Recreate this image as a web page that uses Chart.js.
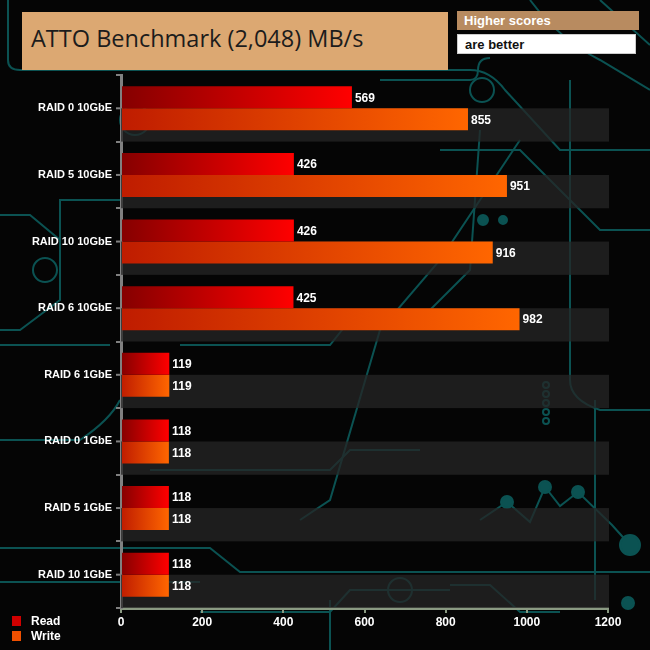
<!DOCTYPE html>
<html>
<head>
<meta charset="utf-8">
<script src="https://cdn.jsdelivr.net/npm/chart.js@4.4.0/dist/chart.umd.min.js"></script>
<style>
  html, body { margin: 0; padding: 0; background: #050505; }
  #wrap { position: relative; width: 650px; height: 650px; overflow: hidden; background: #050505; }
  #bg { position: absolute; left: 0; top: 0; }
  #chart { position: absolute; left: 0; top: 0; }
  .box { position: absolute; box-sizing: border-box; }
  #title { left: 22px; top: 12px; width: 426px; height: 58px; background: #dca872;
           font: 23.5px "Open Sans", "Noto Sans", sans-serif; color: #1c1c1c; padding: 10px 0 0 9px; }
  #hs { left: 457px; top: 11px; width: 182px; height: 19px; background: #b88b60;
        font: bold 13px "Liberation Sans Narrow", "Liberation Sans", Arial, sans-serif; color: #fff; padding: 2px 0 0 7px; }
  #ab { left: 457px; top: 34px; width: 179px; height: 20px; background: #fff; border: 1px solid #ccc;
        font: bold 13px "Liberation Sans Narrow", "Liberation Sans", Arial, sans-serif; color: #111; padding: 2px 0 0 7px; }
  .lg { position: absolute; left: 12px; font: bold 12px "Liberation Sans", Arial, sans-serif; color: #fff; }
  .lg span { display: inline-block; width: 9px; height: 10px; margin-right: 10px; vertical-align: -1px; }
</style>
</head>
<body>
<div id="wrap">
  <svg id="bg" width="650" height="650" fill="none" stroke="#0b5252" stroke-width="2">
    <path d="M8 0 V60 Q8 70 20 70 H470 Q490 70 505 90 L560 150 H650"/>
    <path d="M0 215 H30 L60 240 V300 L20 330 H0"/>
    <circle cx="45" cy="270" r="12"/>
    <path d="M120 200 H60 V250"/>
    <path d="M380 80 H470 Q478 80 478 70 Q478 58 490 58"/>
    <path d="M530 0 Q560 40 600 60 L650 90"/>
    <path d="M600 0 L650 45"/>
    <path d="M440 150 L520 150 L600 230 H650"/>
    <path d="M300 520 L330 500 L380 330 L440 260 L520 140"/>
    <path d="M180 345 H330 L350 320 L420 320 L470 270 L480 130"/>
    <path d="M0 345 H110"/>
    <path d="M0 548 H210 L240 572 H650"/>
    <path d="M0 582 H200"/>
    <path d="M200 612 L330 612 L350 590 H450"/>
    <path d="M330 600 V650"/>
    <path d="M450 585 L490 585 L520 612 H560"/>
    <path d="M480 520 L507 502 L530 522 L545 487 L560 506 L578 492 L612 525 L630 545"/>
    <path d="M570 80 V380 Q570 400 600 410 H650"/>
    <path d="M595 400 V600"/>
    <path d="M120 400 Q110 420 80 440 H0"/>
    <path d="M150 470 H330 L350 450 H420"/>
    <circle cx="135" cy="120" r="15"/>
    <circle cx="135" cy="120" r="6"/>
    <circle cx="400" cy="590" r="12"/>
    <circle cx="482" cy="90" r="12"/>
    <circle cx="630" cy="545" r="10" fill="#0b5252"/>
    <circle cx="628" cy="603" r="6" fill="#0b5252"/>
    <circle cx="507" cy="502" r="6" fill="#0b5252"/>
    <circle cx="545" cy="487" r="6" fill="#0b5252"/>
    <circle cx="578" cy="492" r="6" fill="#0b5252"/>
    <circle cx="483" cy="220" r="5" fill="#0b5252"/>
    <circle cx="503" cy="220" r="4" fill="#0b5252"/>
    <circle cx="546" cy="385" r="3"/>
    <circle cx="546" cy="394" r="3"/>
    <circle cx="546" cy="403" r="3"/>
    <circle cx="546" cy="412" r="3"/>
    <circle cx="546" cy="421" r="3"/>
  </svg>
  <canvas id="chart" width="650" height="650"></canvas>
  <div class="box" id="title">ATTO Benchmark (2,048) MB/s</div>
  <div class="box" id="hs">Higher scores</div>
  <div class="box" id="ab">are better</div>
  <div class="lg" style="top:614px"><span style="background:#d00000"></span>Read</div>
  <div class="lg" style="top:629px"><span style="background:#f05000"></span>Write</div>
</div>
<script>
var categories = ['RAID 0 10GbE', 'RAID 5 10GbE', 'RAID 10 10GbE', 'RAID 6 10GbE',
                  'RAID 6 1GbE', 'RAID 0 1GbE', 'RAID 5 1GbE', 'RAID 10 1GbE'];
var readValues = [569, 426, 426, 425, 119, 118, 118, 118];
var writeValues = [855, 951, 916, 982, 119, 118, 118, 118];
var xTicks = [0, 200, 400, 600, 800, 1000, 1200];

function barGradient(from, to, fallback) {
  return function (ctx) {
    var chart = ctx.chart;
    if (!chart.chartArea || ctx.raw === undefined) return fallback;
    var x = chart.scales.x;
    var x0 = x.getPixelForValue(0);
    var x1 = x.getPixelForValue(ctx.raw);
    var g = chart.ctx.createLinearGradient(x0, 0, x1, 0);
    g.addColorStop(0, from);
    g.addColorStop(1, to);
    return g;
  };
}

// grey band under the lower half of every category + small ticks at the centres
var bandPlugin = {
  id: 'bands',
  beforeDatasetsDraw: function (chart) {
    var c = chart.ctx, y = chart.scales.y, area = chart.chartArea;
    var step = (y.getPixelForValue(1) - y.getPixelForValue(0));
    c.save();
    c.fillStyle = 'rgba(38,38,38,0.75)';
    categories.forEach(function (cat, i) {
      var yc = y.getPixelForValue(i);
      c.fillRect(area.left, yc, 609 - area.left, step / 2);
    });
    c.strokeStyle = '#808080';
    c.lineWidth = 2;
    categories.forEach(function (cat, i) {
      var yc = y.getPixelForValue(i);
      c.beginPath();
      c.moveTo(area.left - 5, yc);
      c.lineTo(area.left, yc);
      c.stroke();
    });
    c.restore();
  }
};

var valuePlugin = {
  id: 'values',
  afterDatasetsDraw: function (chart) {
    var c = chart.ctx;
    c.save();
    c.fillStyle = '#ffffff';
    c.font = 'bold 12px "Liberation Sans", Arial, sans-serif';
    c.textBaseline = 'middle';
    chart.data.datasets.forEach(function (ds, di) {
      chart.getDatasetMeta(di).data.forEach(function (bar, i) {
        c.fillText(ds.data[i], bar.x + 3, bar.y + 1);
      });
    });
    c.restore();
  }
};

new Chart(document.getElementById('chart'), {
  type: 'bar',
  data: {
    labels: categories,
    datasets: [{
      label: 'Read',
      data: readValues,
      backgroundColor: barGradient('#850000', '#ff0000', '#d00000'),
      categoryPercentage: 0.66,
      barPercentage: 1
    }, {
      label: 'Write',
      data: writeValues,
      backgroundColor: barGradient('#bf1c00', '#ff6600', '#f05000'),
      categoryPercentage: 0.66,
      barPercentage: 1
    }]
  },
  options: {
    indexAxis: 'y',
    responsive: false,
    animation: false,
    layout: { padding: { top: 75, right: 42, left: 0, bottom: 0 } },
    plugins: { legend: { display: false }, tooltip: { enabled: false } },
    scales: {
      x: {
        min: 0,
        max: 1200,
        afterFit: function (s) { s.height = 42; },
        afterBuildTicks: function (s) { s.ticks = xTicks.map(function (v) { return { value: v }; }); },
        grid: { drawOnChartArea: false, color: '#8a9a82', lineWidth: 2, tickLength: 5 },
        border: { color: '#8a9a82', width: 3 },
        ticks: {
          color: '#ffffff',
          padding: 2,
          font: { family: '"Liberation Sans", Arial, sans-serif', size: 12, weight: 'bold' },
          callback: function (v) { return String(v); }
        }
      },
      y: {
        afterFit: function (s) { s.width = 121; },
        grid: { drawOnChartArea: false, offset: true, color: '#808080', lineWidth: 2, tickLength: 5 },
        border: { color: '#808080', width: 3 },
        ticks: { color: '#ffffff', padding: 4, font: { family: '"Liberation Sans", Arial, sans-serif', size: 11, weight: 'bold' } }
      }
    }
  },
  plugins: [bandPlugin, valuePlugin]
});
</script>
</body>
</html>
